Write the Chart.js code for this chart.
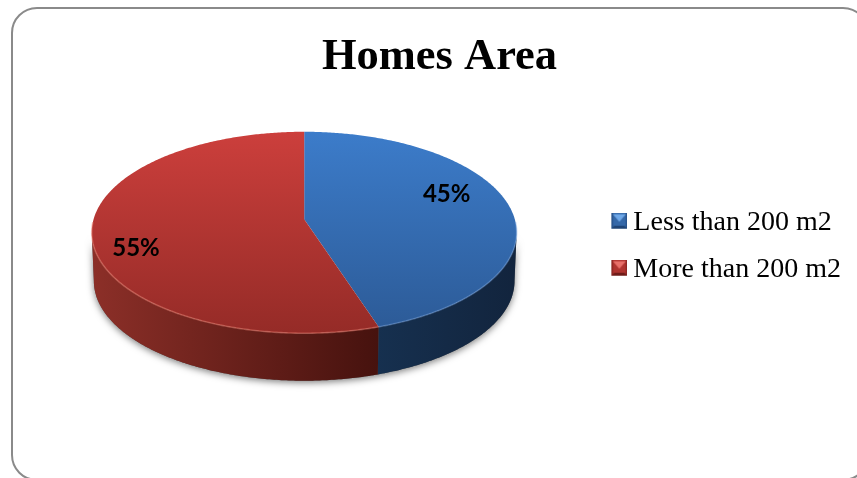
<!DOCTYPE html>
<html>
<head>
<meta charset="utf-8">
<style>
html,body{margin:0;padding:0;background:#fff;overflow:hidden;width:857px;height:478px}
#frame{position:absolute;left:11px;top:7px;width:858px;height:474px;box-sizing:border-box;border:2px solid #8a8a8a;border-radius:26px;background:#fff}
#wrap{position:absolute;left:0;top:0;width:857px;height:478px}
</style>
<script src="https://cdn.jsdelivr.net/npm/chart.js@4/dist/chart.umd.min.js"></script>
</head>
<body>
<div id="frame"></div>
<div id="wrap"><canvas id="c" width="857" height="478"></canvas></div>
<script>
const chartTitle = "Homes Area";
const categories = ["Less than 200 m2", "More than 200 m2"];
const shares = [45, 55];
const baseColors = ["#3568a8", "#b03430"];
const topLight = ["#3c7cca", "#cc3f3c"];
const topDark = ["#2c5a96", "#952b27"];
const sideLeft = ["#16304f", "#8c2f28"];
const sideRight = ["#12243d", "#46120e"];
const rimColors = ["rgba(120,165,225,0.4)", "rgba(240,130,115,0.45)"];
const iconTop = ["#6fa8e8", "#e8706a"];
const iconEdge = ["#1f4475", "#6f1c19"];

/* tilted-disc view: a projective map of the unit circle */
const view = {d: 210.6, a: 100.7, b: -13, c: -0.1315, depth: 48.5, shrink: 0.99};
function project(cx, cy, ang, r, lower) {
  const u = r * Math.cos(ang), v = r * Math.sin(ang);
  const w = 1 + view.c * v;
  let x = u * view.d / w, y = (view.a * v + view.b) / w;
  if (lower) { x *= view.shrink; y = y * view.shrink + view.depth; }
  return [cx + x, cy + y];
}
const vis0 = 0.129, visStart = Math.asin(vis0), visEnd = Math.PI - visStart;
function rimPoints(cx, cy, a0, a1, lower) {
  const pts = [], n = Math.max(2, Math.ceil(Math.abs(a1 - a0) / 0.01));
  for (let i = 0; i <= n; i++) pts.push(project(cx, cy, a0 + (a1 - a0) * i / n, 1, lower));
  return pts;
}
function tracePts(ctx, pts, first) {
  pts.forEach((p, i) => (i === 0 && first) ? ctx.moveTo(p[0], p[1]) : ctx.lineTo(p[0], p[1]));
}
function bevelIcon(i) {
  const s = 16, c = document.createElement('canvas');
  c.width = s + 8; c.height = s + 4;
  const g = c.getContext('2d');
  g.translate(8, 0);
  g.fillStyle = baseColors[i]; g.fillRect(0, 0, s, s);
  g.fillStyle = iconEdge[i];
  g.beginPath(); g.moveTo(0, s); g.lineTo(s, s); g.lineTo(s - 3, s - 3); g.lineTo(3, s - 3); g.closePath(); g.fill();
  g.globalAlpha = .6;
  g.fillRect(0, 0, 1.5, s); g.fillRect(s - 1.5, 0, 1.5, s);
  g.globalAlpha = 1;
  g.fillStyle = iconTop[i];
  g.beginPath(); g.moveTo(1.5, 1.5); g.lineTo(s - 1.5, 1.5); g.lineTo(s / 2, s / 2 + 1); g.closePath(); g.fill();
  return c;
}

const labelPlace = [{r: 0.69, dy: -14}, {r: 0.8, dy: 16}];

const pie3d = {
  id: 'pie3d',
  afterLayout(chart) {
    chart.titleBlock.left += 6; chart.titleBlock.right += 6;
    chart.legend.top += 56.5; chart.legend.bottom += 56.5;
  },
  beforeDatasetDraw(chart, args) {
    const ctx = chart.ctx, arcs = chart.getDatasetMeta(args.index).data;
    const cx = arcs[0].x, cy = arcs[0].y;
    // soft shadow under the whole disc
    ctx.save();
    ctx.shadowColor = 'rgba(0,0,0,0.5)'; ctx.shadowBlur = 7; ctx.shadowOffsetY = 2;
    ctx.fillStyle = '#555';
    ctx.beginPath();
    tracePts(ctx, rimPoints(cx, cy, visStart, visEnd, false), true);
    tracePts(ctx, rimPoints(cx, cy, visEnd, visStart, true), false);
    ctx.closePath(); ctx.fill();
    ctx.restore();
    // walls
    arcs.forEach((arc, i) => {
      const a0 = Math.max(arc.startAngle, visStart), a1 = Math.min(arc.endAngle, visEnd);
      if (a1 <= a0) return;
      const top = rimPoints(cx, cy, a0, a1, false), low = rimPoints(cx, cy, a1, a0, true);
      const xs = top.concat(low).map(p => p[0]);
      const g = ctx.createLinearGradient(Math.max(...xs), 0, Math.min(...xs), 0);
      g.addColorStop(0, sideRight[i]); g.addColorStop(1, sideLeft[i]);
      ctx.fillStyle = g;
      ctx.beginPath(); tracePts(ctx, top, true); tracePts(ctx, low, false); ctx.closePath(); ctx.fill();
    });
    // top faces
    const yTop = project(cx, cy, -Math.PI / 2, 1)[1], yBot = project(cx, cy, Math.PI / 2, 1)[1];
    const hub = project(cx, cy, 0, 0);
    arcs.forEach((arc, i) => {
      const g = ctx.createLinearGradient(0, yTop, 0, yBot);
      g.addColorStop(0, topLight[i]); g.addColorStop(1, topDark[i]);
      ctx.fillStyle = g;
      ctx.beginPath(); ctx.moveTo(hub[0], hub[1]);
      tracePts(ctx, rimPoints(cx, cy, arc.startAngle, arc.endAngle, false), false);
      ctx.closePath(); ctx.fill();
    });
    // lit front edge
    arcs.forEach((arc, i) => {
      const a0 = Math.max(arc.startAngle, visStart - 0.1), a1 = Math.min(arc.endAngle, visEnd + 0.1);
      if (a1 <= a0) return;
      ctx.strokeStyle = rimColors[i]; ctx.lineWidth = 1.6;
      ctx.beginPath(); tracePts(ctx, rimPoints(cx, cy, a0, a1, false), true); ctx.stroke();
    });
    return false;
  },
  afterDraw(chart) {
    const ctx = chart.ctx, meta = chart.getDatasetMeta(0), total = shares.reduce((s, v) => s + v, 0);
    ctx.save();
    ctx.font = 'bold 24px Lato';
    ctx.fillStyle = '#000'; ctx.textAlign = 'center'; ctx.textBaseline = 'middle';
    meta.data.forEach((arc, i) => {
      const mid = (arc.startAngle + arc.endAngle) / 2;
      const p = project(arc.x, arc.y, mid, labelPlace[i].r);
      ctx.fillText(Math.round(shares[i] / total * 100) + '%', p[0] + (i === 0 ? 1 : 1), p[1] + labelPlace[i].dy);
    });
    ctx.restore();
  }
};

new Chart(document.getElementById('c'), {
  type: 'pie',
  data: {labels: categories, datasets: [{data: shares, backgroundColor: baseColors, borderWidth: 0}]},
  options: {
    responsive: false,
    animation: false,
    layout: {padding: {left: 16, right: 6, top: 0, bottom: 98.5}},
    plugins: {
      tooltip: {enabled: false},
      title: {
        display: true, text: chartTitle, color: '#000',
        font: {family: '"Liberation Serif"', size: 44.5, weight: 'bold', lineHeight: 1.2},
        padding: {top: 31, bottom: 0.6}
      },
      legend: {
        position: 'right',
        labels: {
          color: '#000',
          font: {family: '"Liberation Serif"', size: 28},
          padding: 19,
          usePointStyle: true,
          pointStyleWidth: 8,
          generateLabels(chart) {
            return Chart.overrides.pie.plugins.legend.labels.generateLabels(chart)
              .map((it, i) => Object.assign(it, {pointStyle: bevelIcon(i)}));
          }
        }
      }
    }
  },
  plugins: [pie3d]
});
</script>
</body>
</html>
